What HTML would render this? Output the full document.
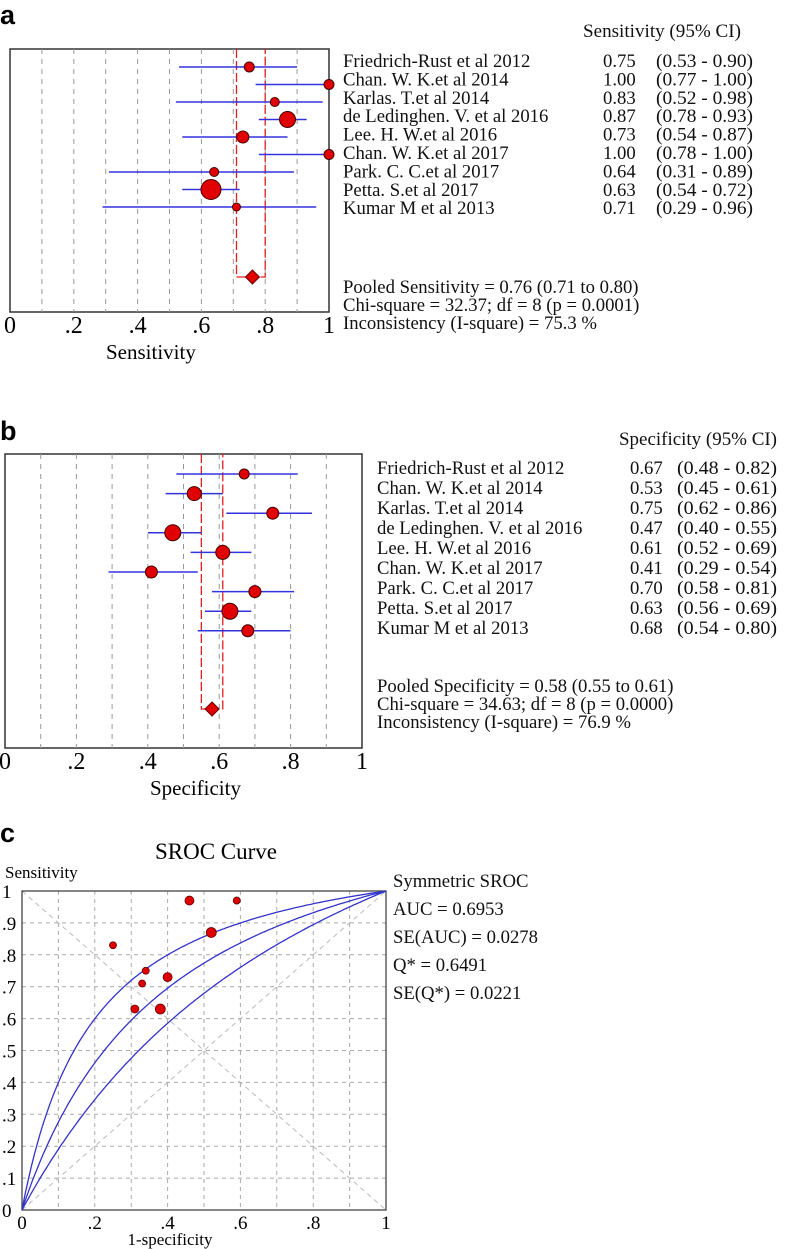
<!DOCTYPE html>
<html><head><meta charset="utf-8">
<style>
body{margin:0;background:#fff;}
svg{display:block;font-family:"Liberation Serif",serif;}
.lbl{font-size:18.7px;fill:#111;}
.pl{font-weight:bold;font-family:"Liberation Sans",sans-serif;font-size:27px;fill:#000;}
</style></head>
<body>
<svg id="chart" width="787" height="1249" viewBox="0 0 787 1249" xmlns="http://www.w3.org/2000/svg">
<text class="pl" x="0" y="24">a</text>
<text class="pl" x="0" y="440">b</text>
<text class="pl" x="0" y="842">c</text>
<g id="pa"></g>
<g id="pb"></g>
<g id="pc"></g>
</svg>
<script>
const studies=["Friedrich-Rust et al 2012","Chan. W. K.et al 2014","Karlas. T.et al 2014","de Ledinghen. V. et al 2016","Lee. H. W.et al 2016","Chan. W. K.et al 2017","Park. C. C.et al 2017","Petta. S.et al 2017","Kumar M et al 2013"];
const sensVal=[0.75,1.00,0.83,0.87,0.73,1.00,0.64,0.63,0.71];
const sensLo=[0.53,0.77,0.52,0.78,0.54,0.78,0.31,0.54,0.29];
const sensHi=[0.90,1.00,0.98,0.93,0.87,1.00,0.89,0.72,0.96];
const sensW=[5,5,4.5,8,6,5,4.5,10,4];
const sensPool=[0.76,0.71,0.80];
const specVal=[0.67,0.53,0.75,0.47,0.61,0.41,0.70,0.63,0.68];
const specLo=[0.48,0.45,0.62,0.40,0.52,0.29,0.58,0.56,0.54];
const specHi=[0.82,0.61,0.86,0.55,0.69,0.54,0.81,0.69,0.80];
const specW=[5,7,6,8,7,6,6,8,6];
const specPool=[0.58,0.55,0.61];
const xTicks=["0",".2",".4",".6",".8","1"];
const srocFpr=[0.46,0.59,0.52,0.25,0.34,0.33,0.40,0.31,0.38];
const srocSens=[0.97,0.97,0.87,0.83,0.75,0.71,0.73,0.63,0.63];
const srocSize=[4.5,3.5,5,3.5,3.5,3.5,4.5,4,5];
const srocD=[1.79,1.231,0.75];
const yTicksC=["0",".1",".2",".3",".4",".5",".6",".7",".8",".9","1"];
const NS="http://www.w3.org/2000/svg";
function mk(p,t,a,txt){const e=document.createElementNS(NS,t);for(const k in a)e.setAttribute(k,a[k]);if(txt!=null)e.textContent=txt;p.appendChild(e);return e;}

function forest(g,o){
  const sx=v=>o.x0+v*(o.x1-o.x0);
  const sy=i=>o.r0+i*o.dr;
  const ty=i=>o.t0+i*o.tdr+6;
  let e=mk(g,'rect',{x:o.x0,y:o.top,width:o.x1-o.x0,height:o.bot-o.top,fill:'none',stroke:'#333','stroke-width':1.5});
  
  for(let k=1;k<10;k++){e=mk(g,'line',{x1:sx(k/10),x2:sx(k/10),y1:o.top,y2:o.bot,stroke:'#999','stroke-dasharray':'5,5'});
    }
  const pl=sx(o.pool[1]),ph=sx(o.pool[2]);
  e=mk(g,'path',{d:`M${pl},${o.top} V${o.dy} H${ph} V${o.top}`,fill:'none',stroke:'#e02020','stroke-width':1.3,'stroke-dasharray':'9,3'});
  
  o.val.forEach((v,i)=>{
    e=mk(g,'line',{x1:sx(o.lo[i]),x2:sx(o.hi[i]),y1:sy(i),y2:sy(i),stroke:'#3333dd','stroke-width':1.5});
    
    e=mk(g,'circle',{cx:sx(v),cy:sy(i),r:o.w[i],fill:'#e00000',stroke:'#400','stroke-width':1});
    
    e=mk(g,'text',{x:o.tx,y:ty(i),class:'lbl'},o.names[i]);
    
    e=mk(g,'text',{x:o.vx,y:ty(i),class:'lbl'},v.toFixed(2));
    
    e=mk(g,'text',{x:o.cx,y:ty(i),class:'lbl',textLength:o.cw,lengthAdjust:'spacingAndGlyphs'},`(${o.lo[i].toFixed(2)} - ${o.hi[i].toFixed(2)})`);
    
  });
  const d=sx(o.pool[0]);
  e=mk(g,'polygon',{points:`${d-7},${o.dy} ${d},${o.dy-7} ${d+7},${o.dy} ${d},${o.dy+7}`,fill:'#e00000',stroke:'#600'});
  
  xTicks.forEach((t,k)=>{e=mk(g,'text',{x:sx(k*0.2),y:o.bot+21,'text-anchor':'middle',style:'font-size:24px'},t);
    });
  e=mk(g,'text',{x:o.axX,y:o.bot+47,style:'font-size:21px'},o.axis);
  
  e=mk(g,'text',{x:o.hx,y:o.hy,class:'lbl',textLength:158,lengthAdjust:'spacingAndGlyphs'},o.header);
  
  o.stats.forEach((s,k)=>{e=mk(g,'text',{x:o.tx,y:o.sy0+k*18,class:'lbl'},s);
    });
}
forest(document.getElementById('pa'),{x0:10,x1:329,top:49,bot:312,r0:67,dr:17.5,t0:61,tdr:18.4,dy:277,val:sensVal,lo:sensLo,hi:sensHi,w:sensW,pool:sensPool,names:studies,
  tx:343,vx:603,cx:656,cw:97,axX:106,axis:'Sensitivity',header:'Sensitivity (95% CI)',hx:583,hy:37,sy0:293,
  stats:['Pooled Sensitivity = 0.76 (0.71 to 0.80)','Chi-square = 32.37; df =  8 (p = 0.0001)','Inconsistency (I-square) = 75.3 %']});
forest(document.getElementById('pb'),{x0:5,x1:362,top:454,bot:748,r0:474,dr:19.6,t0:468,tdr:20,dy:709,val:specVal,lo:specLo,hi:specHi,w:specW,pool:specPool,names:studies,
  tx:377,vx:630,cx:677,cw:100,axX:150,axis:'Specificity',header:'Specificity (95% CI)',hx:619,hy:445,sy0:692,
  stats:['Pooled Specificity = 0.58 (0.55 to 0.61)','Chi-square = 34.63; df =  8 (p = 0.0000)','Inconsistency (I-square) = 76.9 %']});

(function(){
  const g=document.getElementById('pc');
  const x0=22,x1=386,y0=1210,y1=891;
  const sx=v=>x0+v*(x1-x0), sy=v=>y0-v*(y0-y1);
  let e;
  for(let k=1;k<10;k++){
    e=mk(g,'line',{x1:sx(k/10),x2:sx(k/10),y1:y1,y2:y0,stroke:'#aaa','stroke-dasharray':'4,4'});
    
    e=mk(g,'line',{x1:x0,x2:x1,y1:sy(k/10),y2:sy(k/10),stroke:'#aaa','stroke-dasharray':'4,4'});
    
  }
  e=mk(g,'line',{x1:sx(0),y1:sy(0),x2:sx(1),y2:sy(1),stroke:'#bbb','stroke-dasharray':'5,4'});
  
  e=mk(g,'line',{x1:sx(0),y1:sy(1),x2:sx(1),y2:sy(0),stroke:'#bbb','stroke-dasharray':'5,4'});
  
  e=mk(g,'rect',{x:x0,y:y1,width:x1-x0,height:y0-y1,fill:'none',stroke:'#444','stroke-width':1.3});
  
  srocD.forEach(D=>{
    let d='';
    for(let i=0;i<=200;i++){const f=i/200;let s;
      if(f<=0)s=0;else if(f>=1)s=1;else{const l=D+Math.log(f/(1-f));s=1/(1+Math.exp(-l));}
      d+=(i?'L':'M')+sx(f).toFixed(1)+','+sy(s).toFixed(1);}
    e=mk(g,'path',{d:d,fill:'none',stroke:'#3333cc','stroke-width':1.3});
    
  });
  srocFpr.forEach((f,i)=>{e=mk(g,'circle',{cx:sx(f),cy:sy(srocSens[i]),r:srocSize[i],fill:'#dd0000',stroke:'#600','stroke-width':0.8});
    });
  yTicksC.forEach((t,k)=>{e=mk(g,'text',{x:2,y:sy(k/10)+7,style:'font-size:19px'},t);
    });
  xTicks.forEach((t,k)=>{e=mk(g,'text',{x:sx(k*0.2),y:y0+19,'text-anchor':'middle',style:'font-size:19px'},t);
    });
  e=mk(g,'text',{x:170,y:1245,'text-anchor':'middle',style:'font-size:17px'},'1-specificity');
  
  e=mk(g,'text',{x:5,y:878,style:'font-size:17px'},'Sensitivity');
  
  e=mk(g,'text',{x:216,y:859,'text-anchor':'middle',style:'font-size:23px'},'SROC Curve');
  
  ['Symmetric SROC','AUC = 0.6953','SE(AUC) = 0.0278','Q* = 0.6491','SE(Q*) = 0.0221'].forEach((s,k)=>{
    e=mk(g,'text',{x:393,y:887+k*28,class:'lbl'},s);
    });
})();
</script>
</body></html>
